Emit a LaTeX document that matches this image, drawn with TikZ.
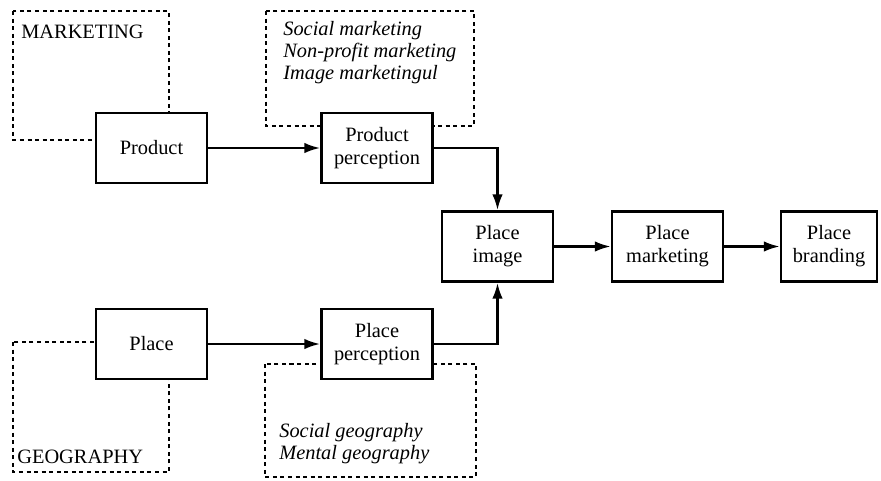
\documentclass[tikz,border=0pt]{standalone}
\usepackage{fontspec}
\setmainfont{Liberation Serif}
\usetikzlibrary{arrows.meta}

\begin{document}
\begin{tikzpicture}[x=0.02cm,y=-0.02cm,
	box/.style={draw,line width=1.6pt,fill=white,minimum width=2.22cm,minimum height=1.4cm,inner sep=0pt,align=center,font=\fontsize{11.6}{13}\selectfont},
	dots/.style={line width=1.5pt,dash pattern=on 2.3pt off 2pt},
	flow/.style={line width=1.3pt,-{Latex[length=9pt,width=6pt]}},
	lbl/.style={inner sep=0pt,font=\fontsize{11.6}{12.5}\selectfont}]
	
	\useasboundingbox (0,0) rectangle (881,480);
	
	\draw[dots](13,11) rectangle (169,140);
	\draw[dots](266,11) rectangle (474,126);
	\draw[dots](13,342) rectangle (169,472);
	\draw[dots](265,364) rectangle (476,477);
	
	\node[lbl,anchor=base west] (mkt) at (21,38) {MARKETING};
	\node[lbl,anchor=base west] (geo) at (17,463) {GEOGRAPHY};
	\node[lbl,anchor=north west,align=left,font=\fontsize{11.6}{12.5}\selectfont\itshape] (mktlist) at (283,21) {Social marketing\\Non-profit marketing\\Image marketingul};
	\node[lbl,anchor=north west,align=left,font=\fontsize{11.6}{12.5}\selectfont\itshape] (geolist) at (279,423) {Social geography\\Mental geography};
	
	\node[box] (prod) at (151.5,148) {Product};
	\node[box] (pperc) at (377,148) {Product\\perception};
	\node[box] (place) at (151.5,344) {Place};
	\node[box] (plperc) at (377,344) {Place\\perception};
	\node[box] (pimg) at (497.5,246.5) {Place\\image};
	\node[box] (pmkt) at (667.5,246.5) {Place\\marketing};
	\node[box,minimum width=1.92cm] (pbrand) at (829,246.5) {Place\\branding};
	
	\draw[flow](prod)--(pperc);
	\draw[flow](place)--(plperc);
	\draw[flow](pperc.east)-|(pimg.north);
	\draw[flow](plperc.east)-|(pimg.south);
	\draw[flow](pimg)--(pmkt);
	\draw[flow](pmkt)--(pbrand);
	
\end{tikzpicture}
\end{document}
